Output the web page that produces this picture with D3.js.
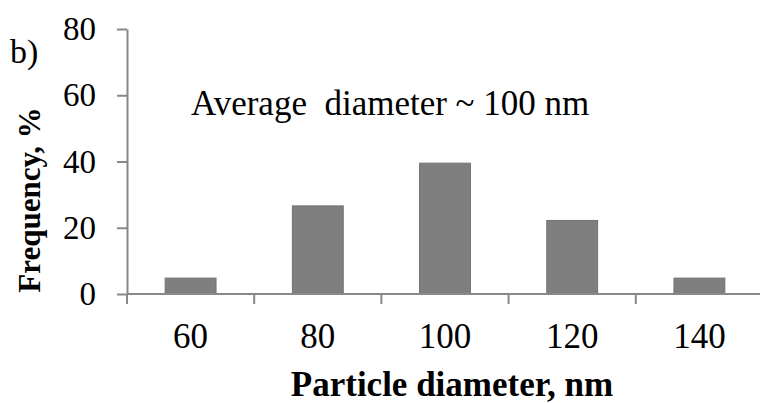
<!DOCTYPE html>
<html><head>
<script src="https://cdn.jsdelivr.net/npm/d3@7"></script>
</head><body style="margin:0;background:#fff"><svg id="c" width="760" height="403"></svg>
<script>
const categories = ["60", "80", "100", "120", "140"];
const frequency = [4.8, 26.6, 39.5, 22.2, 4.8];
const yTicks = [0, 20, 40, 60, 80];

const svg = d3.select("#c");
const FF = "Liberation Serif";
const x = d3.scaleBand().domain(categories).range([127, 763]).paddingInner(0.6).paddingOuter(0.3);
const y = d3.scaleLinear().domain([0, 80]).range([294, 29]);

// bars
svg.selectAll("rect.bar").data(frequency).enter().append("rect")
  .attr("class", "bar")
  .attr("x", (d, i) => x(categories[i]))
  .attr("width", x.bandwidth())
  .attr("y", d => y(d))
  .attr("height", d => y(0) - y(d))
  .attr("fill", "#7f7f7f").attr("stroke", "#727272").attr("stroke-width", 1);

// y axis
const yAxis = svg.append("g").attr("transform", "translate(127,0)")
  .call(d3.axisLeft(y).tickValues(yTicks).tickSize(10).tickPadding(21).tickSizeOuter(0));
yAxis.attr("font-family", null).attr("font-size", null);
yAxis.select(".domain").attr("stroke", "#888").attr("stroke-width", 2);
yAxis.selectAll(".tick line").attr("stroke", "#888").attr("stroke-width", 2);
yAxis.selectAll(".tick text").style("font-family", FF).style("font-size", "33px").style("fill", "#000");

// x axis: ticks on category boundaries
const xb = d3.scaleLinear().domain([0, 5]).range([127, 763]);
const xAxis = svg.append("g").attr("transform", "translate(0,294)");
xAxis.append("line").attr("x1", 127).attr("x2", 763).attr("y1", 0).attr("y2", 0)
  .attr("stroke", "#888").attr("stroke-width", 2);
xAxis.selectAll("line.t").data(d3.range(0, 6)).enter().append("line")
  .attr("class", "t").attr("x1", d => xb(d)).attr("x2", d => xb(d))
  .attr("y1", 0).attr("y2", 10).attr("stroke", "#888").attr("stroke-width", 2);
xAxis.selectAll("text").data(categories).enter().append("text")
  .attr("x", d => x(d) + x.bandwidth() / 2).attr("y", 54)
  .attr("text-anchor", "middle").style("font-family", FF).style("font-size", "35px").style("fill", "#000")
  .text(d => d);

// titles and annotations
svg.append("text").attr("x", 452).attr("y", 396).attr("text-anchor", "middle")
  .style("font-family", FF).style("font-weight", "bold").style("font-size", "35px").text("Particle diameter, nm");
svg.append("text").attr("transform", "translate(40,200) rotate(-90)").attr("text-anchor", "middle")
  .style("font-family", FF).style("font-weight", "bold").style("font-size", "31px").text("Frequency, %");
svg.append("text").attr("x", 191).attr("y", 115)
  .style("font-family", FF).style("font-size", "35px").style("white-space", "pre")
  .text("Average  diameter ~ 100 nm");
svg.append("text").attr("x", 10).attr("y", 63)
  .style("font-family", FF).style("font-size", "34px").text("b)");
</script></body></html>
